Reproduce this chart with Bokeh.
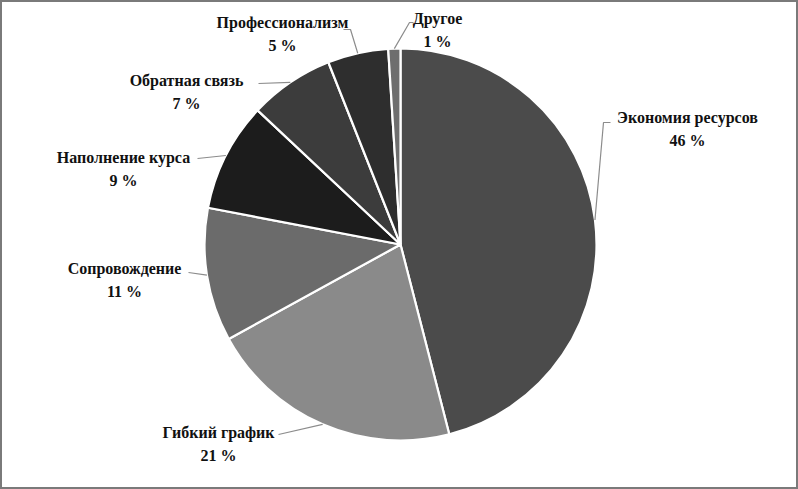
import math
from bokeh.plotting import figure
from bokeh.models import Range1d, ColumnDataSource
from bokeh.core.properties import value
from bokeh.embed import file_html
from bokeh.resources import INLINE

# ---- data ----
categories = ["Экономия ресурсов", "Гибкий график", "Сопровождение",
              "Наполнение курса", "Обратная связь", "Профессионализм", "Другое"]
shares = [46, 21, 11, 9, 7, 5, 1]
colors = ["#4b4b4b", "#8a8a8a", "#6b6b6b", "#1c1c1c", "#3c3c3c", "#2e2e2e", "#6e6e6e"]

# ---- layout (screen pixel coordinates of the 798x489 picture) ----
W, H = 798, 489
CX, CY, R = 400, 244, 196
# label centre (first line) for each slice
label_pos = [(687, 117), (218, 432), (124, 268), (123, 157), (186, 80), (282, 22), (437, 18)]
# leader line intermediate points (from arc end towards label)
leader_mid = [[(603, 122), (610, 122)], [(278, 434)], [(188, 272)], [(197, 158)],
              [(258, 83)], [(350, 29), (343, 29)], [(409, 22), (413, 22)]]

FONT = value("Liberation Serif")


def Y(py):
    return H - py


p = figure(width=W, height=H, output_backend="svg", toolbar_location=None,
           x_range=Range1d(0, W), y_range=Range1d(0, H),
           min_border=0, min_border_left=0, min_border_right=0,
           min_border_top=0, min_border_bottom=0)
p.axis.visible = False
p.grid.visible = False
p.outline_line_color = "#7a7a7a"
p.outline_line_width = 3
p.background_fill_color = "white"
p.border_fill_color = "white"

total = float(sum(shares))
starts, ends, mids = [], [], []
cum = 0.0
for v in shares:
    a0 = math.pi / 2 - 2 * math.pi * cum / total
    cum += v
    a1 = math.pi / 2 - 2 * math.pi * cum / total
    starts.append(a0)
    ends.append(a1)
    mids.append((a0 + a1) / 2)

src = ColumnDataSource(dict(x=[CX] * len(shares), y=[Y(CY)] * len(shares),
                            start=starts, end=ends, color=colors))
p.wedge(x="x", y="y", radius=R, start_angle="start", end_angle="end",
        direction="clock", fill_color="color", line_color="white", line_width=2.2,
        source=src)

# leader lines
for i, m in enumerate(mids):
    ax = CX + R * math.cos(m)
    ay = Y(CY) + R * math.sin(m)
    xs = [ax] + [pt[0] for pt in leader_mid[i]]
    ys = [ay] + [Y(pt[1]) for pt in leader_mid[i]]
    p.line(xs, ys, line_color="#8c8c8c", line_width=1.2)

# labels
lx = [pos[0] for pos in label_pos]
ly1 = [Y(pos[1]) for pos in label_pos]
ly2 = [Y(pos[1] + 23) for pos in label_pos]
pct = [f"{v} %" for v in shares]
p.text(x=lx, y=ly1, text=categories, text_align="center", text_baseline="middle",
       text_font=FONT, text_font_style="bold",
       text_font_size="16px", text_color="#111111")
p.text(x=lx, y=ly2, text=pct, text_align="center", text_baseline="middle",
       text_font=FONT, text_font_style="bold",
       text_font_size="16px", text_color="#111111")

open("out.html", "w").write(file_html(p, INLINE))
